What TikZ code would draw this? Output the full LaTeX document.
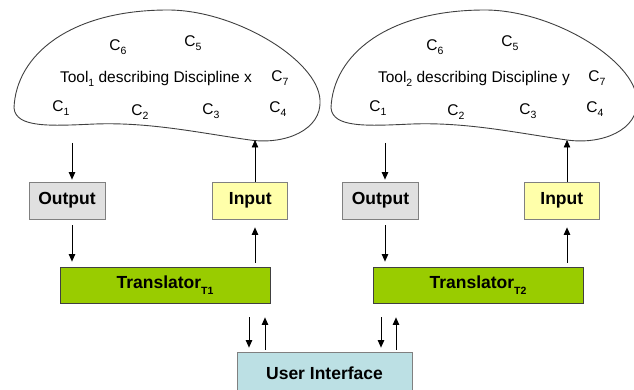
\documentclass[tikz,border=0pt]{standalone}
\usepackage{fontspec}
\setmainfont{Liberation Sans}
\usetikzlibrary{arrows.meta,positioning}

\definecolor{outgray}{HTML}{E0E0E0}
\definecolor{inyellow}{HTML}{FFFFAA}
\definecolor{trgreen}{HTML}{99CC00}
\definecolor{uiblue}{HTML}{BCE0E4}
\definecolor{edgegray}{HTML}{808080}
\definecolor{blobline}{HTML}{404040}

\newcommand{\lowidx}[2][3.5pt]{\raisebox{-#1}{\fontsize{10.5}{10.5}\selectfont #2}}

\tikzset{
	comp/.style={font=\fontsize{15.5}{15.5}\selectfont, inner sep=0pt},
	blob/.style={draw=blobline, line width=0.9pt},
	box/.style={draw=edgegray, line width=0.8pt, minimum height=37pt, inner sep=0pt,
		font=\fontsize{17.5}{17.5}\selectfont\bfseries},
	outbox/.style={box, fill=outgray, minimum width=76pt},
	inbox/.style={box, fill=inyellow, minimum width=75pt},
	transbox/.style={box, draw=black!75, fill=trgreen, minimum width=210pt, minimum height=36pt},
	uibox/.style={box, fill=uiblue, minimum width=175pt, minimum height=42pt},
	arr/.style={-{Triangle[length=7.5pt,width=6.5pt]}, line width=0.7pt},
}

\begin{document}
\begin{tikzpicture}[x=1pt,y=-1pt]
		\clip (0,0) rectangle (634,390);
		
		% tool x
		\draw[blob] (14,108) .. controls (16,55) and (70,10) .. (168,10)
			.. controls (235,10) and (318,60) .. (320,100)
			.. controls (322,130) and (285,145) .. (250,140)
			.. controls (200,133) and (150,122) .. (95,124)
			.. controls (50,126) and (16,128) .. (14,108) -- cycle;
		\node[comp] (xtool) at (156,79) {Tool\lowidx{1} describing Discipline x};
		\node[comp] (xC6) at (118,47) {C\lowidx{6}};
		\node[comp] (xC5) at (193,43) {C\lowidx{5}};
		\node[comp] (xC7) at (280,78) {C\lowidx{7}};
		\node[comp] (xC1) at (61,108) {C\lowidx{1}};
		\node[comp] (xC2) at (140,112) {C\lowidx{2}};
		\node[comp] (xC3) at (211,111) {C\lowidx{3}};
		\node[comp] (xC4) at (278,109) {C\lowidx{4}};
		
		% tool y
		\begin{scope}[xshift=317pt]
		\draw[blob] (14,108) .. controls (16,55) and (70,10) .. (168,10)
			.. controls (235,10) and (318,60) .. (320,100)
			.. controls (322,130) and (285,145) .. (250,140)
			.. controls (200,133) and (150,122) .. (95,124)
			.. controls (50,126) and (16,128) .. (14,108) -- cycle;
		\node[comp] (ytool) at (157,79) {Tool\lowidx{2} describing Discipline y};
		\node[comp] (yC6) at (118,47) {C\lowidx{6}};
		\node[comp] (yC5) at (193,43) {C\lowidx{5}};
		\node[comp] (yC7) at (280,78) {C\lowidx{7}};
		\node[comp] (yC1) at (61,108) {C\lowidx{1}};
		\node[comp] (yC2) at (139,112) {C\lowidx{2}};
		\node[comp] (yC3) at (211,111) {C\lowidx{3}};
		\node[comp] (yC4) at (278,109) {C\lowidx{4}};
		\end{scope}
		
		% boxes
		\node[outbox] (out1) at (67,200.5) {Output};
		\node[inbox, right=107pt of out1] (in1) {Input};
		\node[transbox] (tr1) at (165,285) {Translator\lowidx[5.5pt]{T1}};
		\node[outbox] (out2) at (380.5,200.5) {Output};
		\node[inbox, right=105pt of out2] (in2) {Input};
		\node[transbox] (tr2) at (478,285) {Translator\lowidx[5.5pt]{T2}};
		\node[uibox] (ui) at (324.5,373) {User Interface};
		
		% arrow columns
		\coordinate (d1) at (72,143);
		\coordinate (u1) at (255,140);
		\coordinate (d2) at (385,143);
		\coordinate (u2) at (567,140);
		\coordinate (dui1) at (249,0);
		\coordinate (uui1) at (265,0);
		\coordinate (dui2) at (381,0);
		\coordinate (uui2) at (396,0);
		
		\draw[arr, shorten >=2pt] (d1) -- (d1 |- out1.north);
		\draw[arr, shorten <=6pt, shorten >=5pt] (d1 |- out1.south) -- (d1 |- tr1.north);
		\draw[arr, shorten <=4pt, shorten >=8pt] (u1 |- tr1.north) -- (u1 |- in1.south);
		\draw[arr] (u1 |- in1.north) -- (u1);
		
		\draw[arr, shorten >=2pt] (d2) -- (d2 |- out2.north);
		\draw[arr, shorten <=6pt, shorten >=5pt] (d2 |- out2.south) -- (d2 |- tr2.north);
		\draw[arr, shorten <=4pt, shorten >=8pt] (u2 |- tr2.north) -- (u2 |- in2.south);
		\draw[arr] (u2 |- in2.north) -- (u2);
		
		\draw[arr, shorten <=14pt, shorten >=4pt] (dui1 |- tr1.south) -- (dui1 |- ui.north);
		\draw[arr, shorten <=2pt, shorten >=14pt] (uui1 |- ui.north) -- (uui1 |- tr1.south);
		\draw[arr, shorten <=14pt, shorten >=4pt] (dui2 |- tr2.south) -- (dui2 |- ui.north);
		\draw[arr, shorten <=2pt, shorten >=14pt] (uui2 |- ui.north) -- (uui2 |- tr2.south);
	\end{tikzpicture}
\end{document}
